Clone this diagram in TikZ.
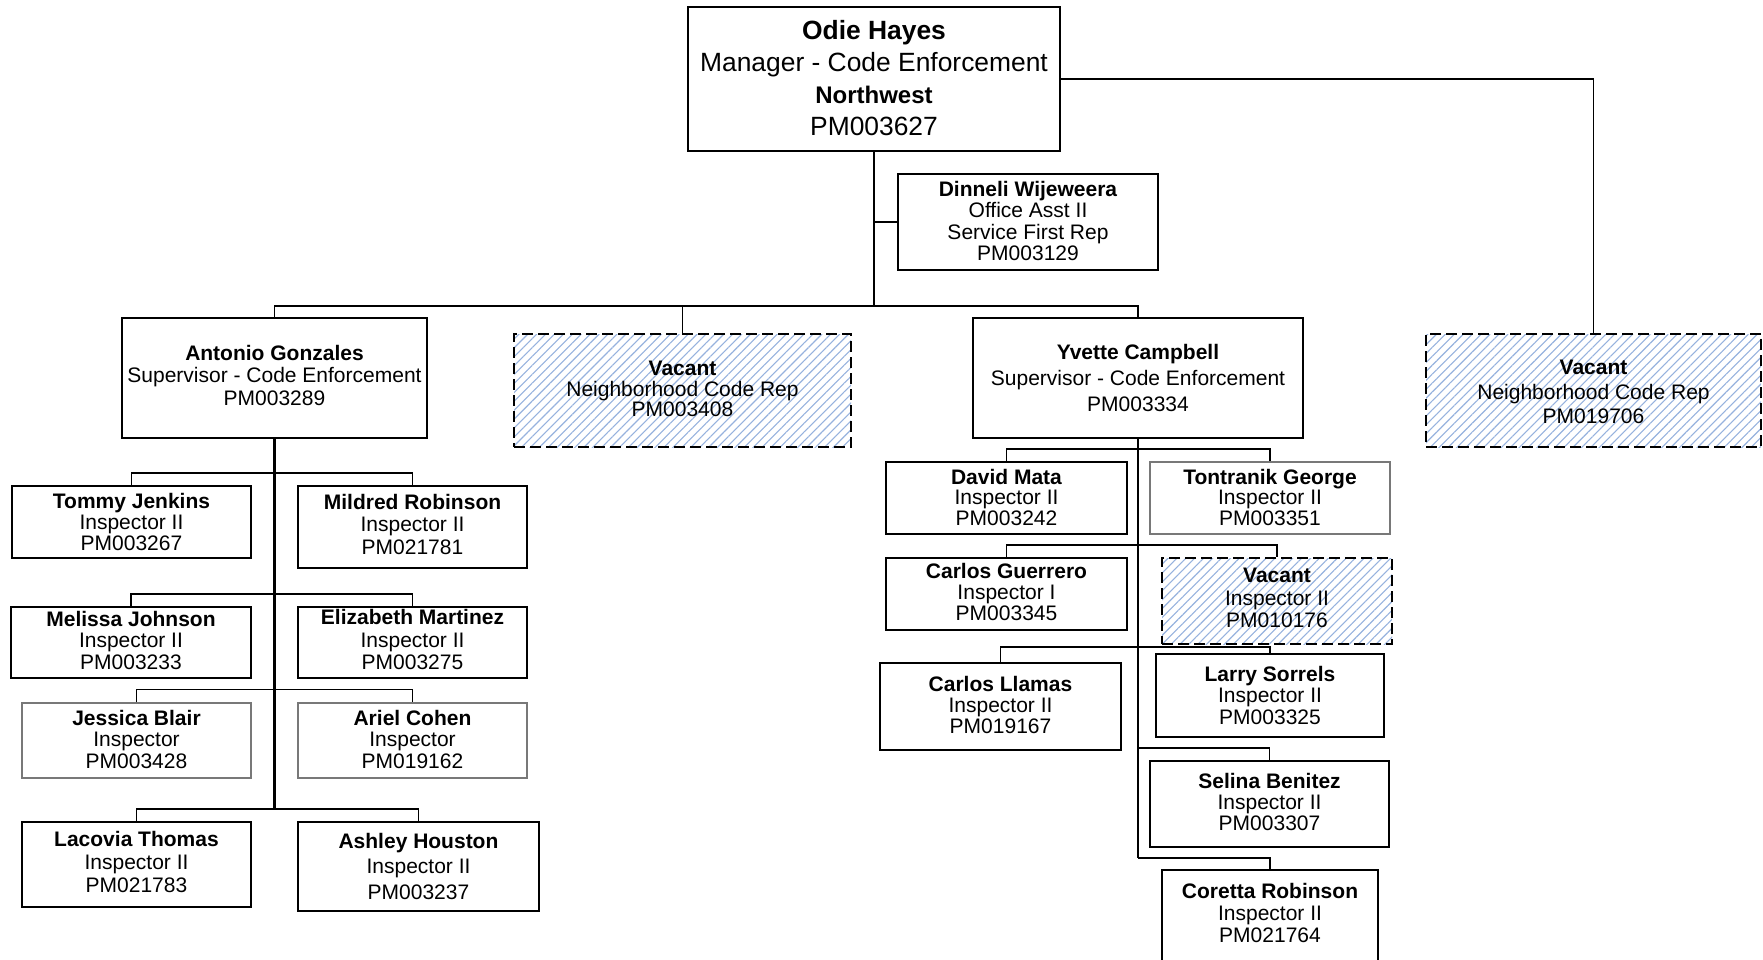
\documentclass[tikz,border=0pt]{standalone}
\usepackage{fontspec}
\setmainfont{Liberation Sans}
\usetikzlibrary{patterns.meta}
\definecolor{hatch}{RGB}{150,178,222}
\definecolor{grayline}{RGB}{120,120,120}
\tikzset{
  box/.style={draw=black, line width=1.7pt, fill=white},
  thickbox/.style={draw=black, line width=2.6pt, fill=white},
  graybox/.style={draw=grayline, line width=1.1pt, fill=white},
  vacbox/.style={draw=black, line width=2pt, dash pattern=on 11pt off 5pt,
    preaction={fill=white},
    pattern={Lines[angle=45,distance=6.3pt,line width=1.1pt]}, pattern color=hatch},
  txt/.style={align=center, inner sep=0pt, text=black},
  conn/.style={draw=black, line width=1.7pt},
  trunk/.style={draw=black, line width=2.4pt},
}
\newcommand\orgbox[9]{%
  \node[#6, minimum width={(#4-#2)*1pt}, minimum height={(#5-#3)*1pt}, inner sep=0pt]
    (#1) at ({(#2+#4)/2},{(#3+#5)/2}) {};
  \node[txt, font=\fontsize{21}{#8}\selectfont] (#1-t) at ({(#2+#4)/2},#7) {#9};
}
\begin{document}
\begin{tikzpicture}[x=1pt,y=-1pt]
\useasboundingbox (0,0) rectangle (1763,960);
\clip (0,0) rectangle (1763,960);
\fill[white] (0,0) rectangle (1763,960);

% ---------- boxes ----------
\node[box, minimum width=372pt, minimum height=144pt, inner sep=0pt] (mgr) at (874,79) {};
\node[txt, font=\fontsize{26.4}{32}\selectfont] (mgr-t) at (874,78)
  {\textbf{Odie Hayes}\\Manager - Code Enforcement\\{\fontsize{24}{32}\selectfont\textbf{Northwest}}\\PM003627};
\orgbox{din}{898}{174}{1158}{270}{box}{221}{21.3}{\textbf{Dinneli Wijeweera}\\Office Asst II\\Service First Rep\\PM003129}

\orgbox{ant}{122}{318}{427}{438}{box}{375}{22.5}{\textbf{Antonio Gonzales}\\Supervisor - Code Enforcement\\PM003289}
\orgbox{vaca}{514}{334}{851}{447}{vacbox}{389}{20.5}{\textbf{Vacant}\\Neighborhood Code Rep\\PM003408}
\orgbox{yve}{973}{318}{1303}{438}{box}{378}{26}{\textbf{Yvette Campbell}\\Supervisor - Code Enforcement\\PM003334}
\orgbox{vacb}{1426}{334}{1761}{447}{vacbox}{392}{24.5}{\textbf{Vacant}\\Neighborhood Code Rep\\PM019706}

% Antonio's team
\orgbox{tom}{12}{486}{251}{558}{box}{522}{21}{\textbf{Tommy Jenkins}\\Inspector II\\PM003267}
\orgbox{mil}{298}{486}{527}{568}{box}{524}{22.5}{\textbf{Mildred Robinson}\\Inspector II\\PM021781}
\orgbox{mel}{11}{607}{251}{678}{box}{640}{21.5}{\textbf{Melissa Johnson}\\Inspector II\\PM003233}
\orgbox{eli}{298}{607}{527}{678}{thickbox}{639.5}{22.5}{\textbf{Elizabeth Martinez}\\Inspector II\\PM003275}
\orgbox{jes}{22}{703}{251}{778}{graybox}{739}{21.5}{\textbf{Jessica Blair}\\Inspector\\PM003428}
\orgbox{ari}{298}{703}{527}{778}{graybox}{739}{21.5}{\textbf{Ariel Cohen}\\Inspector\\PM019162}
\orgbox{lac}{22}{822}{251}{907}{box}{862}{23}{\textbf{Lacovia Thomas}\\Inspector II\\PM021783}
\orgbox{ash}{298}{822}{539}{911}{box}{866}{25.5}{\textbf{Ashley Houston}\\Inspector II\\PM003237}

% Yvette's team
\orgbox{dav}{886}{462}{1127}{534}{box}{497}{20.5}{\textbf{David Mata}\\Inspector II\\PM003242}
\orgbox{ton}{1150}{462}{1390}{534}{graybox}{497}{20.5}{\textbf{Tontranik George}\\Inspector II\\PM003351}
\orgbox{car}{886}{558}{1127}{630}{box}{592}{21}{\textbf{Carlos Guerrero}\\Inspector I\\PM003345}
\orgbox{vacc}{1162}{558}{1392}{644}{vacbox}{598}{22.5}{\textbf{Vacant}\\Inspector II\\PM010176}
\orgbox{lla}{880}{663}{1121}{750}{box}{705}{21}{\textbf{Carlos Llamas}\\Inspector II\\PM019167}
\orgbox{lar}{1156}{654}{1384}{737}{box}{695}{21.5}{\textbf{Larry Sorrels}\\Inspector II\\PM003325}
\orgbox{sel}{1150}{761}{1389}{847}{box}{802}{21}{\textbf{Selina Benitez}\\Inspector II\\PM003307}
\orgbox{cor}{1162}{870}{1378}{980}{box}{913}{22}{\textbf{Coretta Robinson}\\Inspector II\\PM021764}

% ---------- connectors ----------
\coordinate (bus0) at (874,306);
\coordinate (aend) at (274.5,810);
\coordinate (yend) at (1138,858);

\draw[trunk] (mgr.south) -- (bus0);
\draw[conn] (din.west) -- (din.west -| mgr.south);
\draw[conn] (ant.north) |- (bus0);
\draw[conn] (yve.north) |- (bus0);
\draw[conn] (vaca.north) -- (vaca.north |- bus0);
\draw[conn] (mgr.east) -| (vacb.north);

% Antonio trunk and rows
\draw[trunk] (ant.south) -- (aend);
\draw[conn] (tom.north) -- ++(0,-12) -| (mil.north);
\draw[conn] (mel.north) -- ++(0,-12) -| (eli.north);
\draw[conn] (jes.north) -- ++(0,-13) -| (ari.north);
\draw[conn] (lac.north) -- ++(0,-12) -| (ash.north);

% Yvette trunk and rows
\draw[trunk] (yve.south) -- (yend);
\draw[conn] (dav.north) -- ++(0,-12) -| (ton.north);
\draw[conn] (car.north) -- ++(0,-12) -| (vacc.north);
\draw[conn] (lla.north) -- ++(0,-15) -| (lar.north);
\draw[conn] (sel.north) -- ++(0,-12) -| (sel.north -| yend);
\draw[conn] (cor.north) -- (cor.north |- yend) -- (yend);
\end{tikzpicture}
\end{document}
